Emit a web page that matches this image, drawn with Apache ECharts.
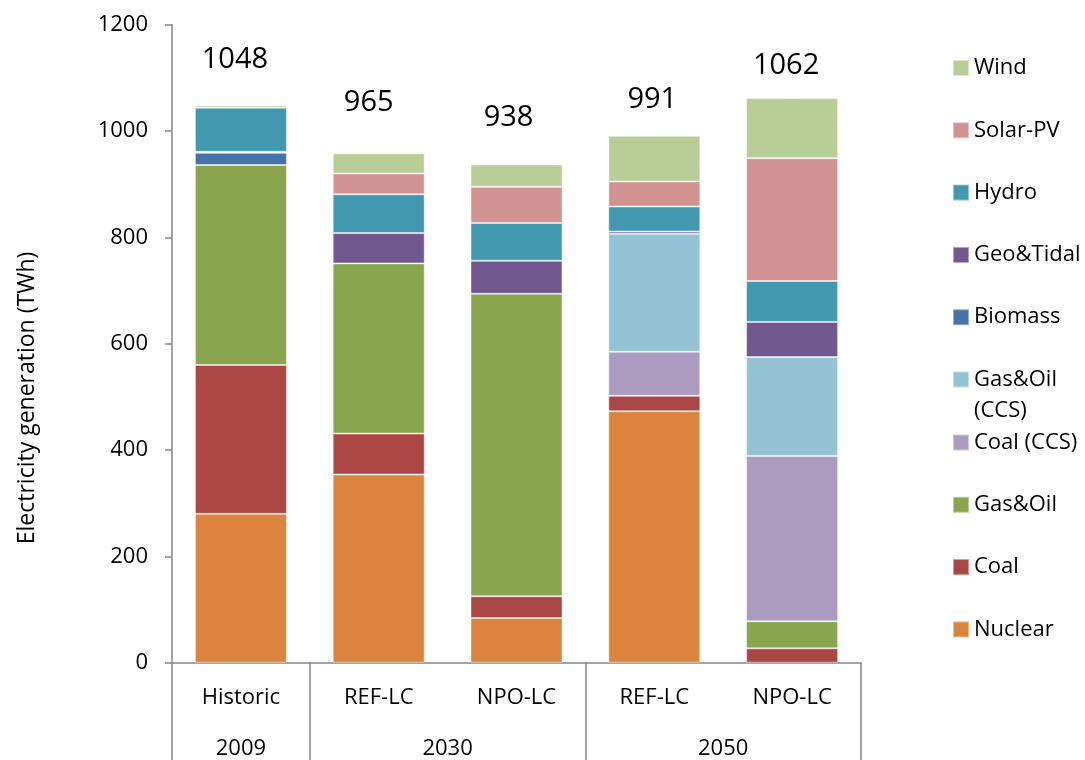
<!DOCTYPE html>
<html><head><meta charset="utf-8">
<script src="https://cdn.jsdelivr.net/npm/echarts@6/dist/echarts.min.js"></script>
<style>html,body{margin:0;padding:0;background:#fff}#c{width:1085px;height:760px}</style>
</head><body><div id="c"></div>
<script>
// ---- data ----
const categories = ['Historic', 'REF-LC', 'NPO-LC', 'REF-LC', 'NPO-LC'];
const groups = ['2009', '2030', '2050'];
const groupSpans = [1, 2, 2];
const nuclear   = [280, 354, 84, 473, 0];
const coal      = [280, 77, 41, 29, 27];
const gasOil    = [376, 320, 569, 0, 51];
const coalCCS   = [0, 0, 0, 83, 311];
const gasOilCCS = [0, 0, 0, 222, 186];
const biomass   = [23, 0, 0, 0, 0];
const geoTidal  = [2, 57, 62, 4, 66];
const hydro     = [83, 73, 71, 47, 77];
const solarPV   = [0, 39, 68, 47, 231];
const wind      = [4, 38, 42, 86, 113];
const totals    = [1048, 965, 938, 991, 1062];
const yMin = 0, yMax = 1200, yStep = 200;

// ---- layout / style ----
const FONT = "'Open Sans', sans-serif";
const AXIS_COLOR = '#868686';
const totalLabelDist = [31, 32, 31.5, 21, 17.5];
const totalLabelDx = [-6, -10, -8, -2, -6];
const totalLabelStyle = { fontSize: 29, lineHeight: 29, color: '#000000', opacity: 1, textBorderWidth: 0, fontFamily: FONT };

const seriesDefs = [
  ['Nuclear', nuclear, '#DB843D'],
  ['Coal', coal, '#AA4643'],
  ['Gas&Oil', gasOil, '#89A54E'],
  ['Coal (CCS)', coalCCS, '#AA9BBF'],
  ['Gas&Oil (CCS)', gasOilCCS, '#93C3D4'],
  ['Biomass', biomass, '#4572A7'],
  ['Geo&Tidal', geoTidal, '#71588F'],
  ['Hydro', hydro, '#4198AF'],
  ['Solar-PV', solarPV, '#D19392'],
  ['Wind', wind, '#B9CE97']
];

// group axis built on half-category points
const nCat = groupSpans.reduce((a, b) => a + b, 0);
const groupAxisData = new Array(nCat * 2 + 1).fill('');
const groupTicks = [0];
let pos = 0;
groups.forEach((g, i) => {
  groupAxisData[pos * 2 + groupSpans[i]] = g;
  pos += groupSpans[i];
  groupTicks.push(pos * 2);
});

const barSeries = seriesDefs.map(([name, vals, color]) => ({
  name, type: 'bar', stack: 'gen', xAxisIndex: 0, yAxisIndex: 0,
  barWidth: 92,
  data: vals.map(v => v === 0 ? '-' : v),
  itemStyle: { color, borderColor: 'rgba(255,255,255,0.45)', borderWidth: 1 },
  emphasis: { disabled: true }
}));

const totalSeries = {
  name: 'total', type: 'scatter', xAxisIndex: 0, yAxisIndex: 0,
  symbolSize: 1, itemStyle: { color: '#ffffff', opacity: 1 }, silent: true, z: 10,
  emphasis: { disabled: true },
  data: totals.map((t, i) => ({
    value: t,
    label: Object.assign({ show: true, position: 'top', distance: totalLabelDist[i], offset: [totalLabelDx[i], 0] }, totalLabelStyle)
  })),
  label: Object.assign({ show: true, formatter: p => String(p.value) }, totalLabelStyle)
};

const legendText = { fontSize: 22, lineHeight: 22, color: '#000', fontFamily: FONT };
const legendTop = ['Wind', 'Solar-PV', 'Hydro', 'Geo&Tidal', 'Biomass', 'Gas&Oil (CCS)'];
const legendBottom = ['Coal (CCS)', 'Gas&Oil', 'Coal', 'Nuclear'];

const option = {
  animation: false,
  textStyle: { fontFamily: FONT },
  grid: { left: 172, right: 224, top: 24.7, bottom: 97.3, containLabel: false },
  legend: [
    {
      orient: 'vertical', left: 947, top: 52, itemWidth: 16, itemHeight: 16, itemGap: 40.3,
      icon: 'rect', selectedMode: false, textStyle: legendText,
      formatter: n => n === 'Gas&Oil (CCS)' ? '{a|Gas&Oil}\n{b|(CCS)}' : n,
      data: legendTop.map(n => n === 'Gas&Oil (CCS)'
        ? { name: n, textStyle: { height: 22, rich: { a: { fontSize: 22, lineHeight: 22, fontFamily: FONT, color: '#000' }, b: { fontSize: 22, lineHeight: 40, fontFamily: FONT, color: '#000' } } } }
        : n)
    },
    {
      orient: 'vertical', left: 947, top: 426.5, itemWidth: 16, itemHeight: 16, itemGap: 40.3,
      icon: 'rect', selectedMode: false, textStyle: legendText, data: legendBottom
    }
  ],
  xAxis: [
    {
      type: 'category', data: categories, position: 'bottom',
      axisLine: { lineStyle: { color: AXIS_COLOR, width: 1.5 } },
      axisTick: { interval: 0, length: 51, lineStyle: { color: AXIS_COLOR, width: 1.5 } },
      axisLabel: { interval: 0, margin: 24, fontSize: 22, lineHeight: 22, color: '#000', fontFamily: FONT }
    },
    {
      type: 'category', data: groupAxisData, position: 'bottom', boundaryGap: false,
      axisLine: { show: false },
      axisTick: { show: true, interval: (i) => groupTicks.indexOf(i) >= 0, length: 98, lineStyle: { color: AXIS_COLOR, width: 1.5 } },
      axisLabel: { interval: 0, margin: 75, fontSize: 22, lineHeight: 22, color: '#000', fontFamily: FONT },
      splitLine: { show: false }
    }
  ],
  yAxis: {
    type: 'value', min: yMin, max: yMax, interval: yStep,
    axisLine: { show: true, lineStyle: { color: AXIS_COLOR, width: 1.5 } },
    axisTick: { show: true, length: 7, lineStyle: { color: AXIS_COLOR, width: 1.5 } },
    splitLine: { show: false },
    axisLabel: { margin: 24, fontSize: 22, color: '#000', fontFamily: FONT, formatter: v => String(v) }
  },
  graphic: [{
    type: 'text', x: 27, y: 398, rotation: Math.PI / 2,
    style: { text: 'Electricity generation (TWh)', fontSize: 23, fontFamily: FONT, fill: '#000', align: 'center', verticalAlign: 'middle' }
  }],
  series: barSeries.concat([totalSeries])
};

const chart = echarts.init(document.getElementById('c'), null, { renderer: 'canvas' });
chart.setOption(option);
</script>
</body></html>
